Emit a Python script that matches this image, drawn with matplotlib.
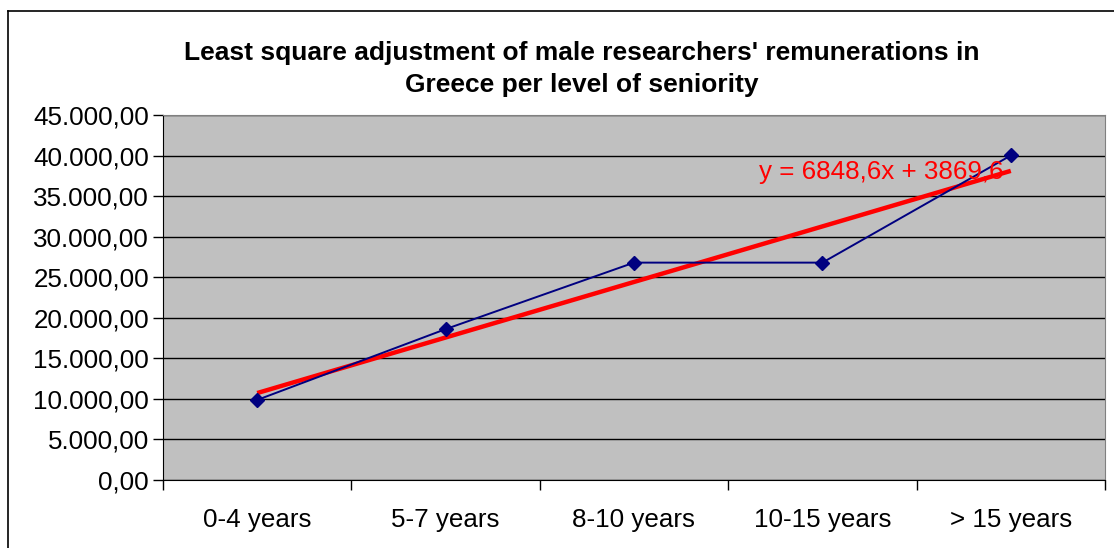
import matplotlib
matplotlib.use("Agg")
import numpy as np
from matplotlib import pyplot as plt
from matplotlib.lines import Line2D

plt.rcParams['font.family'] = ['Liberation Sans', 'DejaVu Sans']

# data
categories = ["0-4 years", "5-7 years", "8-10 years", "10-15 years", "> 15 years"]
remunerations = [9870, 18600, 26800, 26800, 40010]
trend_slope = 6848.6
trend_intercept = 3869.6
y_ticks = [0, 5000, 10000, 15000, 20000, 25000, 30000, 35000, 40000, 45000]
y_tick_labels = ["0,00", "5.000,00", "10.000,00", "15.000,00", "20.000,00",
                 "25.000,00", "30.000,00", "35.000,00", "40.000,00", "45.000,00"]
title = "Least square adjustment of male researchers' remunerations in\nGreece per level of seniority"
equation = "y = 6848,6x + 3869,6"

W, H = 1114, 548
fig = plt.figure(figsize=(W / 100, H / 100), dpi=100)
ax = fig.add_axes([163 / W, (H - 480) / H, 942 / W, 365 / H])
ax.set_facecolor("#C0C0C0")

x = np.arange(1, len(categories) + 1)

# trend line (Excel linear trendline)
ax.plot(x[[0, -1]], trend_slope * x[[0, -1]] + trend_intercept,
        color="#FF0000", lw=3.2, zorder=3, solid_capstyle="butt")
# series
ax.plot(x, remunerations, color="#000080", lw=1.4, marker="D", ms=7.5,
        mfc="#000080", mec="#000080", zorder=4)

ax.set_xlim(0.5, len(categories) + 0.5)
ax.set_ylim(0, 45000)
ax.set_yticks(y_ticks)
ax.set_yticklabels(y_tick_labels, fontsize=18.7)
ax.yaxis.grid(True, color="black", lw=1)
ax.set_axisbelow(True)

ax.set_xticks(np.arange(0.5, len(categories) + 1, 1.0))
ax.set_xticklabels([])
ax.set_xticks(x, minor=True)
ax.set_xticklabels(categories, minor=True, fontsize=18.7)
ax.tick_params(axis="x", which="minor", length=0, pad=20)
ax.tick_params(axis="x", which="major", length=7, width=1, direction="out")
ax.tick_params(axis="y", length=7, width=1, direction="out", pad=3)

for side in ["top", "right"]:
    ax.spines[side].set_color("#808080")
for side in ["left", "bottom"]:
    ax.spines[side].set_color("black")

ax.text((759 - 163) / 942, 1 - (172 - 115) / 365, equation, transform=ax.transAxes,
        color="#FF0000", fontsize=18.7, ha="left", va="center", zorder=5)

fig.text(582 / W, 1 - 69 / H, title, ha="center", va="center",
         fontsize=19, fontweight="bold", linespacing=1.38)

# outer chart border
fig.add_artist(Line2D([8 / W, 8 / W], [0, 1 - 11 / H], color="black", lw=1.2,
                      transform=fig.transFigure))
fig.add_artist(Line2D([8 / W, 1], [1 - 11 / H, 1 - 11 / H], color="black", lw=1.2,
                      transform=fig.transFigure))

fig.savefig("out.png", dpi=100)
